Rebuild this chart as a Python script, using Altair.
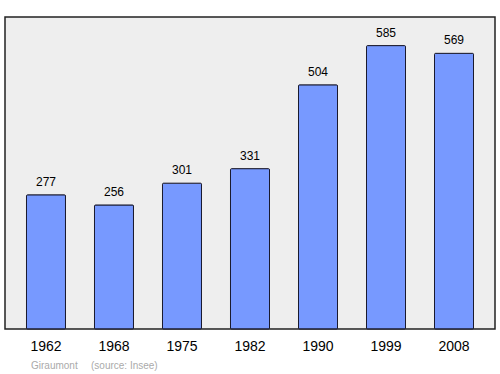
import altair as alt
import pandas as pd

years = ["1962", "1968", "1975", "1982", "1990", "1999", "2008"]
population = [277, 256, 301, 331, 504, 585, 569]
footer_texts = ["Giraumont", "(source: Insee)"]

df = pd.DataFrame({"year": years, "pop": population})

x = alt.X("year:N", sort=years,
          scale=alt.Scale(paddingInner=0.4265, paddingOuter=0.316),
          axis=alt.Axis(title=None, labelAngle=0, ticks=False, domain=False,
                        labelFontSize=14, labelFont="Liberation Sans",
                        labelColor="#000000", labelPadding=10))
y = alt.Y("pop:Q", scale=alt.Scale(domain=[0, 644], nice=False, zero=True),
          axis=None)

bars = alt.Chart(df).mark_bar(color="#7799ff", stroke="#1a1a2e", strokeWidth=1,
                              cornerRadius=1).encode(x=x, y=y)
labels = alt.Chart(df).mark_text(baseline="alphabetic", dy=-9, fontSize=12,
                                 font="Liberation Sans", color="#000000").encode(
    x=x, y=y, text="pop:Q")

footer = alt.Chart(pd.DataFrame({"t": footer_texts[:1]})).mark_text(
    align="left", baseline="alphabetic", fontSize=10, font="Liberation Sans",
    color="#aaaaaa").encode(x=alt.value(26), y=alt.value(352), text="t:N")
footer2 = alt.Chart(pd.DataFrame({"t": footer_texts[1:]})).mark_text(
    align="left", baseline="alphabetic", fontSize=10, font="Liberation Sans",
    color="#aaaaaa").encode(x=alt.value(86), y=alt.value(352), text="t:N")

chart = alt.layer(bars, labels, footer, footer2).properties(
    width=490, height=312,
    autosize=alt.AutoSizeParams(type="none"),
    padding={"left": 5, "top": 17, "right": 5, "bottom": 45},
).configure(
    background="#ffffff",
    view=alt.ViewConfig(fill="#eeeeee", stroke="#222222", strokeWidth=1.5),
)

chart.save("out.html", embed_options={"renderer": "svg", "actions": False})
